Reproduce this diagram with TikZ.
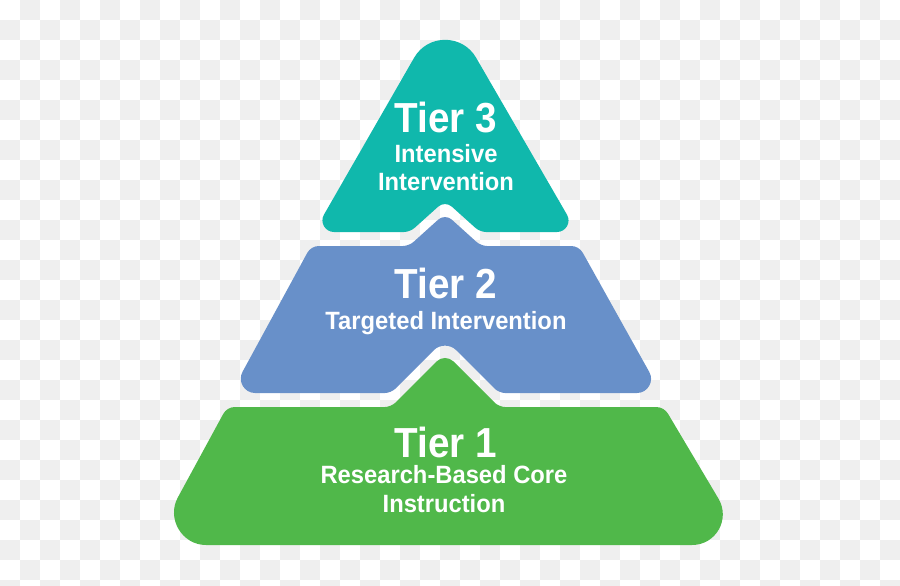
\documentclass[tikz,border=0pt]{standalone}
\usepackage{fontspec}
\usepackage{graphicx}
\setmainfont{Liberation Sans}
\usetikzlibrary{calc}
\definecolor{checkgray}{HTML}{EFEFEF}
\definecolor{tealc}{HTML}{10B8AC}
\definecolor{bluec}{HTML}{6890C9}
\definecolor{greenc}{HTML}{50B84A}
% corner helper: [control fraction], name, prev, corner, next, inset
\newcommand\mkc[6][0.45]{%
  \coordinate (#2-i) at ($(#4)!#6pt!(#3)$);
  \coordinate (#2-o) at ($(#4)!#6pt!(#5)$);
  \coordinate (#2-a) at ($(#4)!#1!(#2-i)$);
  \coordinate (#2-b) at ($(#4)!#1!(#2-o)$);
}
\newcommand\rc[1]{-- (#1-i) .. controls (#1-a) and (#1-b) .. (#1-o)}
\tikzset{
  tiertext/.style={text=white, anchor=base, inner sep=0pt, font=\bfseries\fontsize{42}{42}\selectfont},
  subtext/.style={text=white, anchor=base, inner sep=0pt, font=\bfseries\fontsize{25}{25}\selectfont},
}
\begin{document}
\begin{tikzpicture}[x=1pt,y=-1pt]
\useasboundingbox (0,0) rectangle (900,586);
\clip (0,0) rectangle (900,586);
\fill[white] (0,0) rectangle (900,586);
\foreach \i in {0,...,44}{%
  \foreach \j in {0,...,29}{%
    \pgfmathtruncatemacro\k{mod(\i+\j,2)}%
    \ifnum\k=1 \fill[checkgray] (\i*20,\j*20) rectangle ++(20,20);\fi
  }%
}
% ---------- Tier 3 (teal) ----------
\coordinate (a3) at (445,4);
\coordinate (br3) at (577,232);
\coordinate (nr3) at (480,232);
\coordinate (np3) at (445,200.5);
\coordinate (nl3) at (410,232);
\coordinate (bl3) at (314,232);
\mkc[0.556]{ca3}{bl3}{a3}{br3}{62}
\mkc[0.556]{cbr3}{a3}{br3}{nr3}{20}
\mkc{cnr3}{br3}{nr3}{np3}{6}
\mkc{cnp3}{nr3}{np3}{nl3}{9}
\mkc{cnl3}{np3}{nl3}{bl3}{6}
\mkc[0.556]{cbl3}{nl3}{bl3}{a3}{20}
\fill[tealc] (ca3-o) \rc{cbr3} \rc{cnr3} \rc{cnp3} \rc{cnl3} \rc{cbl3} \rc{ca3} -- cycle;
% ---------- Tier 2 (blue) ----------
\coordinate (tl2) at (311,246);
\coordinate (bl1) at (409,246);
\coordinate (bp2) at (445,213.5);
\coordinate (br1) at (481,246);
\coordinate (tr2) at (579,246);
\coordinate (brc2) at (661,393);
\coordinate (nr2) at (499,393);
\coordinate (np2) at (445,339);
\coordinate (nl2) at (391,393);
\coordinate (blc2) at (231,393);
\mkc[0.38]{ctl2}{blc2}{tl2}{bl1}{8}
\mkc{cbl1}{tl2}{bl1}{bp2}{6}
\mkc{cbp2}{bl1}{bp2}{br1}{9}
\mkc{cbr1}{bp2}{br1}{tr2}{6}
\mkc[0.38]{ctr2}{br1}{tr2}{brc2}{8}
\mkc[0.556]{cbrc2}{tr2}{brc2}{nr2}{24}
\mkc{cnr2}{brc2}{nr2}{np2}{6}
\mkc{cnp2}{nr2}{np2}{nl2}{16}
\mkc{cnl2}{np2}{nl2}{blc2}{6}
\mkc[0.556]{cblc2}{nl2}{blc2}{tl2}{24}
\fill[bluec] (ctl2-o) \rc{cbl1} \rc{cbp2} \rc{cbr1} \rc{ctr2} \rc{cbrc2} \rc{cnr2} \rc{cnp2} \rc{cnl2} \rc{cblc2} \rc{ctl2} -- cycle;
% ---------- Tier 1 (green) ----------
\coordinate (tl1) at (227,407);
\coordinate (gl1) at (391,407);
\coordinate (gp1) at (445,353);
\coordinate (gr1) at (499,407);
\coordinate (tr1) at (664,407);
\coordinate (brc1) at (746,545);
\coordinate (blc1) at (152,545);
\mkc[0.38]{ctl1}{blc1}{tl1}{gl1}{8}
\mkc{cgl1}{tl1}{gl1}{gp1}{6}
\mkc{cgp1}{gl1}{gp1}{gr1}{12}
\mkc{cgr1}{gp1}{gr1}{tr1}{6}
\mkc[0.38]{ctr1}{gr1}{tr1}{brc1}{8}
\mkc[0.556]{cbrc1}{tr1}{brc1}{blc1}{54}
\mkc[0.556]{cblc1}{brc1}{blc1}{tl1}{54}
\fill[greenc] (ctl1-o) \rc{cgl1} \rc{cgp1} \rc{cgr1} \rc{ctr1} \rc{cbrc1} \rc{cblc1} \rc{ctl1} -- cycle;
% ---------- Texts ----------
\node[tiertext] (t3) at (446,132) {\scalebox{0.92}[1]{Tier 3}};
\node[subtext] (t3a) at (446,162) {\scalebox{0.95}[1]{Intensive}};
\node[subtext] (t3b) at (446,190) {\scalebox{0.95}[1]{Intervention}};
\node[tiertext] (t2) at (446,298) {\scalebox{0.92}[1]{Tier 2}};
\node[subtext] (t2a) at (446,329) {\scalebox{0.95}[1]{Targeted Intervention}};
\node[tiertext] (t1) at (446,457) {\scalebox{0.92}[1]{Tier 1}};
\node[subtext] (t1a) at (444,483) {\scalebox{0.95}[1]{Research-Based Core}};
\node[subtext] (t1b) at (444,512) {\scalebox{0.95}[1]{Instruction}};
\end{tikzpicture}
\end{document}
